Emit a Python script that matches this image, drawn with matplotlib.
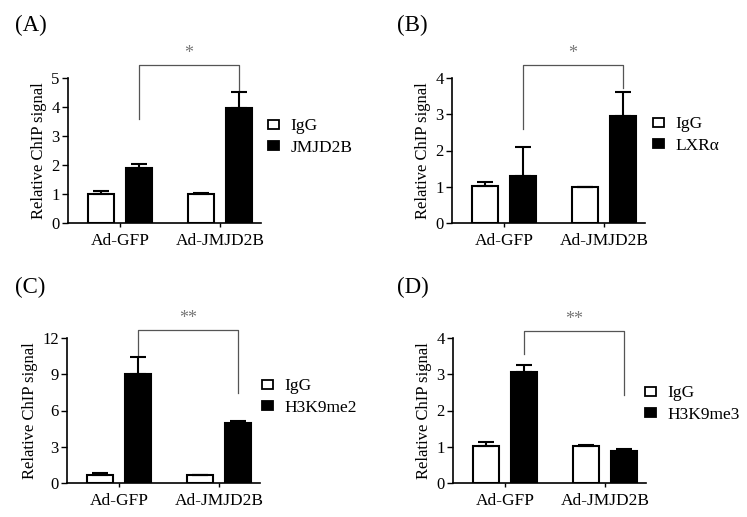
import matplotlib
matplotlib.use('Agg')
import matplotlib.pyplot as plt
from matplotlib.patches import Patch
import numpy as np

plt.rcParams['font.family'] = ['Liberation Serif', 'DejaVu Serif']

groups = ['Ad-GFP', 'Ad-JMJD2B']

# panel A
a_igg = [1.0, 1.0]
a_igg_err = [0.11, 0.04]
a_tgt = [1.88, 3.95]
a_tgt_err = [0.15, 0.58]

# panel B
b_igg = [1.02, 1.0]
b_igg_err = [0.11, 0.0]
b_tgt = [1.3, 2.95]
b_tgt_err = [0.8, 0.67]

# panel C
c_igg = [0.69, 0.69]
c_igg_err = [0.12, 0.0]
c_tgt = [9.0, 4.95]
c_tgt_err = [1.45, 0.22]

# panel D
d_igg = [1.02, 1.02]
d_igg_err = [0.12, 0.04]
d_tgt = [3.06, 0.87]
d_tgt_err = [0.2, 0.08]

panels = [
    # label, igg, igg_err, target, target_err, target name, ymax, yticks, bracket (left bottom, top, right bottom), stars
    ('(A)', a_igg, a_igg_err, a_tgt, a_tgt_err, 'JMJD2B', 5, [0, 1, 2, 3, 4, 5], (3.6, 5.45, 4.6), '*'),
    ('(B)', b_igg, b_igg_err, b_tgt, b_tgt_err, 'LXR\u03b1', 4, [0, 1, 2, 3, 4], (2.6, 4.35, 3.72), '*'),
    ('(C)', c_igg, c_igg_err, c_tgt, c_tgt_err, 'H3K9me2', 12, [0, 3, 6, 9, 12], (10.5, 12.65, 7.45), '**'),
    ('(D)', d_igg, d_igg_err, d_tgt, d_tgt_err, 'H3K9me3', 4, [0, 1, 2, 3, 4], (3.56, 4.19, 2.43), '**'),
]

W, H = 747, 517
# axes boxes in pixels: left, right, bottom, top
boxes = [(68, 261, 223, 78), (452, 645, 223, 78), (67, 260, 483, 338), (453, 646, 483, 338)]
label_pos = [(15, 25), (397, 25), (15, 287), (397, 287)]
# legend: left edge of the squares, vertical centre (pixels)
legend_pos = [(268, 137), (653, 135), (262, 397), (645, 404)]

fig = plt.figure(figsize=(W / 100, H / 100), dpi=100)

for (lab, igg, igg_err, tgt, tgt_err, name, ymax, yticks, br, stars), box, lp, lg in zip(panels, boxes, label_pos, legend_pos):
    l, r, b, t = box
    ax = fig.add_axes([l / W, 1 - b / H, (r - l) / W, (b - t) / H])
    x = np.arange(len(groups))
    w = 0.26
    ekw = dict(ecolor='black', elinewidth=1.5, capsize=5.5, capthick=1.5)
    ax.bar(x - 0.19, igg, w, color='white', edgecolor='black', linewidth=1.5,
           yerr=[np.zeros(2), igg_err], error_kw=ekw, zorder=2)
    ax.bar(x + 0.19, tgt, w, color='black', edgecolor='black', linewidth=1.5,
           yerr=[np.zeros(2), tgt_err], error_kw=ekw, zorder=2)
    ax.set_xlim(-0.52, 1.41)
    ax.set_ylim(0, ymax)
    ax.set_yticks(yticks)
    ax.set_xticks(x)
    ax.set_xticklabels(groups, fontsize=12.5)
    ax.tick_params(axis='y', labelsize=12, length=4, width=1, pad=2)
    ax.tick_params(axis='x', length=3, width=1, pad=4)
    for s in ['top', 'right']:
        ax.spines[s].set_visible(False)
    for s in ['left', 'bottom']:
        ax.spines[s].set_linewidth(1.2)
    ax.set_ylabel('Relative ChIP signal', fontsize=12, labelpad=3)

    # significance bracket
    xl, xr = 0.19, 1.19
    ax.plot([xl, xl, xr, xr], [br[0], br[1], br[1], br[2]], color='#555555',
            linewidth=0.9, clip_on=False)
    ax.text((xl + xr) / 2, br[1] + ymax * 0.02, stars, ha='center', va='bottom',
            fontsize=13, color='#777777')

    handles = [Patch(facecolor='white', edgecolor='black', linewidth=1.3),
               Patch(facecolor='black', edgecolor='black', linewidth=1.3)]
    fig.legend(handles, ['IgG', name], loc='center left',
               bbox_to_anchor=(lg[0] / W, 1 - lg[1] / H), bbox_transform=fig.transFigure,
               frameon=False, fontsize=12.5, handlelength=0.65, handleheight=0.45,
               handletextpad=0.65, labelspacing=0.3, borderpad=0, borderaxespad=0)

    fig.text(lp[0] / W, 1 - lp[1] / H, lab, fontsize=16.5, ha='left', va='center')

fig.savefig('out.png', dpi=100)
